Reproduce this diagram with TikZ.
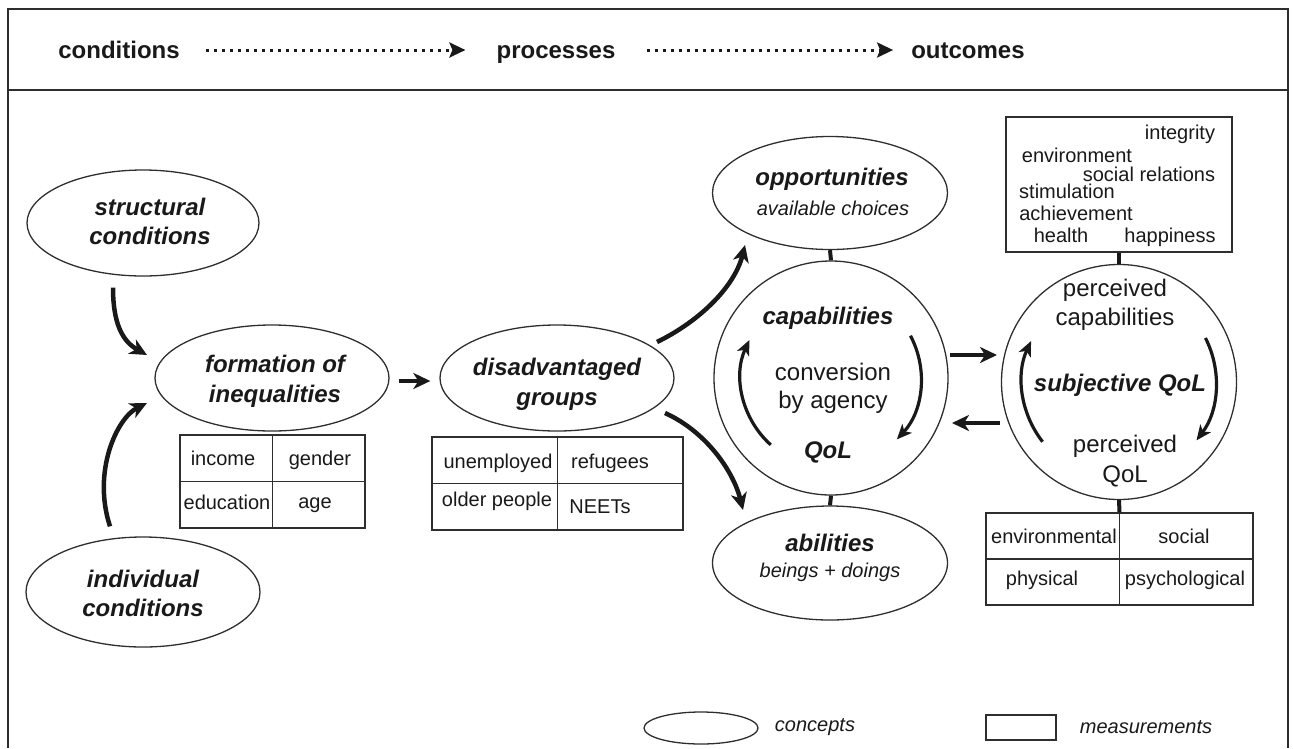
\documentclass[tikz,border=0pt]{standalone}
\usepackage{fontspec}
\setmainfont{Liberation Sans}
\usetikzlibrary{shapes.geometric,arrows.meta,calc}
\begin{document}
\begin{tikzpicture}[x=1pt,y=-1pt,
  thinline/.style={draw=black!82,line width=1.3pt},
  concept/.style={ellipse,draw=black!82,line width=1.3pt,inner sep=0pt},
  ring/.style={circle,draw=black!82,line width=1.3pt,inner sep=0pt,minimum size=234pt},
  mbox/.style={rectangle,draw=black!82,line width=1.3pt,inner sep=0pt},
  lbl/.style={inner sep=0pt,text=black!90,align=center},
  big/.style={lbl,font=\fontsize{24}{29}\selectfont},
  bigbi/.style={lbl,font=\fontsize{24}{29}\selectfont\bfseries\itshape},
  hdr/.style={lbl,anchor=base,font=\fontsize{24}{29}\selectfont\bfseries},
  small/.style={lbl,anchor=base,font=\fontsize{20}{24}\selectfont},
  smallit/.style={lbl,font=\fontsize{20}{24}\selectfont\itshape},
  bigarrow/.style={draw=black!90,line width=4.5pt,-{Stealth[length=17pt,width=16pt,inset=5pt]}},
  arcarrow/.style={draw=black!90,line width=3.2pt,-{Stealth[length=15pt,width=13pt,inset=4pt]}},
  dotarrow/.style={draw=black!90,line width=3pt,dash pattern=on 3.5pt off 4.5pt,-{Stealth[length=16pt,width=15pt,inset=3pt]}},
  link/.style={draw=black!90,line width=4pt},
]
\useasboundingbox (0,0) rectangle (1293,748);

% frame
\draw[thinline,line width=1.6pt] (8,748) -- (8,9) -- (1288,9) -- (1288,748);
\draw[thinline,line width=1.8pt] (8,90) -- (1288,90);

% header
\node[hdr] (hc) at (119,58) {conditions};
\node[hdr] (hp) at (556,58) {processes};
\node[hdr] (ho) at (968,58) {outcomes};
\draw[dotarrow] ([shift={(26,-8)}]hc.base east) -- ([shift={(-31,-8)}]hp.base west);
\draw[dotarrow] ([shift={(31,-8)}]hp.base east) -- ([shift={(-18,-8)}]ho.base west);

% concepts (ellipses)
\node[concept,minimum width=232pt,minimum height=106pt] (sc) at (143,223) {};
\node[bigbi] (sct) at (150,221) {structural\\conditions};
\node[concept,minimum width=234pt,minimum height=106pt] (fi) at (272,378) {};
\node[bigbi,font=\fontsize{24}{30}\selectfont\bfseries\itshape] (fit) at (275,381) {formation of\\inequalities};
\node[concept,minimum width=234pt,minimum height=110pt] (ic) at (143,592) {};
\node[bigbi] (ict) at (143,593) {individual\\conditions};
\node[concept,minimum width=234pt,minimum height=106pt] (gd) at (557,378) {};
\node[bigbi,font=\fontsize{24}{30}\selectfont\bfseries\itshape] (gdt) at (557,384) {disadvantaged\\groups};
\node[concept,minimum width=235pt,minimum height=113pt] (op) at (830,193) {};
\node[bigbi] (opt1) at (832,179) {opportunities};
\node[smallit] (opt2) at (833,208) {available choices};
\node[concept,minimum width=235pt,minimum height=114pt] (ab) at (830,563) {};
\node[bigbi] (abt1) at (830,543) {abilities};
\node[smallit] (abt2) at (830,572) {beings + doings};

% circles
\node[ring] (cap) at (831,378) {};
\node[bigbi] (capt1) at (828,318) {capabilities};
\node[big,font=\fontsize{24}{28}\selectfont] (capt2) at (833,388) {conversion\\by agency};
\node[bigbi] (capt3) at (828,452) {QoL};
\node[ring,minimum size=235pt] (sq) at (1119,382) {};
\node[big,font=\fontsize{24}{29}\selectfont] (sqt1) at (1115,305) {perceived\\capabilities};
\node[bigbi] (sqt2) at (1120,385) {subjective QoL};
\node[big,font=\fontsize{24}{30}\selectfont] (sqt3) at (1125,461) {perceived\\QoL};

% circular arrows
\draw[arcarrow] ([shift={(132:90)}]cap.center) arc[start angle=132,end angle=205,radius=90];
\draw[arcarrow] ([shift={(-28:90)}]cap.center) arc[start angle=-28,end angle=43,radius=90];
\draw[arcarrow] ([shift={(142:97)}]sq.center) arc[start angle=142,end angle=205,radius=97];
\draw[arcarrow] ([shift={(-27:97)}]sq.center) arc[start angle=-27,end angle=37,radius=97];

% links
\draw[link] (op.south) -- (cap.north);
\draw[link] (cap.south) -- (ab.north);

% measurement boxes
\node[mbox,minimum width=185pt,minimum height=93pt] (t1) at (272.5,481.5) {};
\draw[thinline] (t1.north) -- (t1.south);
\draw[thinline] (t1.west) -- (t1.east);
\node[small] (t1a) at (223,465) {income};
\node[small] (t1b) at (320,465) {gender};
\node[small] (t1c) at (227,509) {education};
\node[small] (t1d) at (315,508) {age};

\node[mbox,minimum width=251pt,minimum height=93pt] (t2) at (557.5,483.5) {};
\draw[thinline] (t2.north) -- (t2.south);
\draw[thinline] (t2.west) -- (t2.east);
\node[small] (t2a) at (498,468) {unemployed};
\node[small] (t2b) at (610,468) {refugees};
\node[small] (t2c) at (497,506) {older people};
\node[small] (t2d) at (600,513) {NEETs};

\node[mbox,minimum width=226pt,minimum height=135pt] (tb) at (1119,184.5) {};
\node[small] (w1) at (1180,139) {integrity};
\node[small] (w2) at (1077,162) {environment};
\node[small] (w3) at (1149,181) {social relations};
\node[small] (w4) at (1067,198) {stimulation};
\node[small] (w5) at (1076,220) {achievement};
\node[small] (w6) at (1061,242) {health};
\node[small] (w7) at (1170,242) {happiness};
\draw[link] (tb.south) -- (sq.north);

\node[mbox,minimum width=267pt,minimum height=92pt] (t3) at (1119.5,559) {};
\draw[thinline] (t3.north) -- (t3.south);
\draw[thinline] (t3.west) -- (t3.east);
\node[small] (t3a) at (1054,543) {environmental};
\node[small] (t3b) at (1184,543) {social};
\node[small] (t3c) at (1042,585) {physical};
\node[small] (t3d) at (1185,585) {psychological};
\draw[link] (sq.south) -- (t3.north);

% arrows
\draw[bigarrow] ([shift={(-30,11)}]sc.south) .. controls +(0,35) and +(-25,-14) .. ([shift={(-125,-23)}]fi.center);
\draw[bigarrow] ([shift={(-33,-10)}]ic.north) .. controls +(-18,-55) and +(-30,15) .. ([shift={(-125,25)}]fi.center);
\draw[bigarrow] ([shift={(9,3)}]fi.east) -- ([shift={(-9,3)}]gd.west);
\draw[bigarrow] ([shift={(100,-36)}]gd.center) .. controls +(45,-22) and +(-10,40) .. ([shift={(-85,52)}]op.center);
\draw[bigarrow] ([shift={(108,35)}]gd.center) .. controls +(40,18) and +(-10,-40) .. ([shift={(-87,-53)}]ab.center);
\draw[bigarrow] ([shift={(119,-23)}]cap.center) -- ([shift={(-122,-27)}]sq.center);
\draw[bigarrow] ([shift={(-119,41)}]sq.center) -- ([shift={(121,45)}]cap.center);

% legend
\node[concept,minimum width=114pt,minimum height=32pt] (lge) at (701,728) {};
\node[smallit] (lget) at (815,727) {concepts};
\node[mbox,minimum width=70pt,minimum height=25pt] (lgr) at (1021,727.5) {};
\node[smallit] (lgrt) at (1146,727) {measurements};
\end{tikzpicture}
\end{document}
